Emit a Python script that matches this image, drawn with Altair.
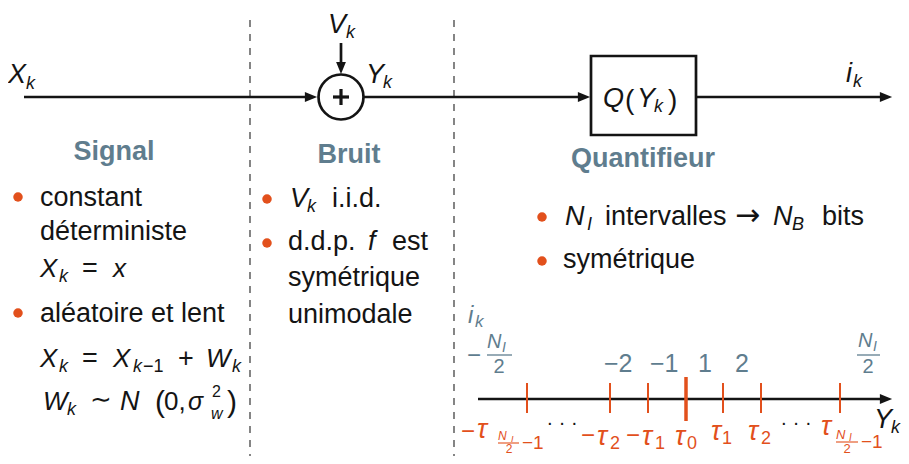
import altair as alt
import pandas as pd

FONT = "Liberation Sans"
ARROWFONT = "DejaVu Sans"
INK = "#141414"
SLATE = "#5f7d8e"
ORANGE = "#e2501c"

W, H = 893, 448
XS = alt.Scale(domain=[8, 8 + W], nice=False, zero=False)
YS = alt.Scale(domain=[8, 8 + H], nice=False, zero=False, reverse=True)

# ---------------- content ----------------
section_titles = ["Signal", "Bruit", "Quantifieur"]
signal_words = ["constant", "déterministe", "aléatoire et lent"]
bruit_words = ["i.i.d.", "d.d.p.", "est", "symétrique", "unimodale"]
quant_words = ["intervalles", "bits", "symétrique"]
index_labels = ["−2", "−1", "1", "2"]
threshold_subs = ["2", "1", "0", "1", "2"]
threshold_signs = ["−", "−", "", "", ""]
tick_pos = [527, 610, 648, 723, 761, 840]   # thresholds on the Y_k axis
center_tick = [686]

# ---------------- layout ----------------
texts = []


def T(s, x, y, size, color=INK, style="normal", weight="normal", align="left", font=FONT):
    texts.append(dict(t=s, x=x, y=y, s=size, c=color, st=style, w=weight, a=align, f=font))


# flow diagram symbols
T("X", 8, 83, 27, style="italic"); T("k", 26, 89, 18, style="italic")
T("V", 328, 33, 27, style="italic"); T("k", 346, 38, 18, style="italic")
T("Y", 366, 83, 27, style="italic"); T("k", 383, 88, 18, style="italic")
T("i", 846, 82, 27, style="italic"); T("k", 853, 87, 18, style="italic")
T("Q", 603, 107, 27, style="italic"); T("(", 625, 109, 28)
T("Y", 637, 107, 27, style="italic"); T("k", 654, 112, 18, style="italic")
T(")", 668, 109, 28)

# titles
for s, x, y in zip(section_titles, [114, 349, 643], [160, 163, 167]):
    T(s, x, y, 27, color=SLATE, weight="bold", align="center")

# Signal column
for s, y in zip(signal_words, [206, 240, 322]):
    T(s, 40, y, 27)
T("X", 40, 277, 26, style="italic"); T("k", 59, 282, 18, style="italic")
T("=", 82, 277, 27); T("x", 113, 277, 26, style="italic")
T("X", 40, 367, 26, style="italic"); T("k", 59, 372, 18, style="italic")
T("=", 82, 367, 27); T("X", 113, 367, 26, style="italic")
T("k", 133, 372, 18, style="italic"); T("−1", 143, 372, 18)
T("+", 178, 367, 27); T("W", 206, 367, 26, style="italic")
T("k", 232, 372, 18, style="italic")
T("W", 43, 410, 26, style="italic"); T("k", 67, 415, 18, style="italic")
T("∼", 90, 408, 26); T("N", 120, 410, 27, style="italic")
T("(", 155, 412, 30); T("0,", 164, 410, 26)
T("σ", 188, 410, 25, style="italic"); T("2", 212, 397, 16)
T("w", 211, 419, 16, style="italic"); T(")", 227, 412, 30)

# Bruit column
T("V", 290, 207, 27, style="italic"); T("k", 307, 212, 18, style="italic")
for s, x, y in zip(bruit_words, [332, 288, 392, 288, 288], [207, 250, 250, 286, 323]):
    T(s, x, y, 27)
T("f", 368, 250, 27, style="italic")

# Quantifieur column
T("N", 565, 225, 27, style="italic"); T("I", 587, 230, 18, style="italic")
T("N", 773, 225, 27, style="italic"); T("B", 792, 230, 18, style="italic")
for s, x, y in zip(quant_words, [605, 822, 563], [225, 225, 268]):
    T(s, x, y, 27)
T("→", 735, 225, 30, font=ARROWFONT)

# index labels above the axis
T("i", 468, 323, 24, color=SLATE, style="italic"); T("k", 475, 327, 17, color=SLATE, style="italic")
T("−", 467, 363, 24, color=SLATE)
T("N", 487, 348, 20, color=SLATE, style="italic"); T("I", 502, 352, 14, color=SLATE, style="italic")
T("2", 499, 373, 20, color=SLATE, align="center")
T("N", 858, 347, 20, color=SLATE, style="italic"); T("I", 873, 351, 14, color=SLATE, style="italic")
T("2", 868, 373, 20, color=SLATE, align="center")
for s, x in zip(index_labels, [604, 650, 698, 735]):
    T(s, x, 372, 25, color=SLATE)

# threshold labels below the axis
for sgn, sub, xm, xt, xs, yb in zip(threshold_signs, threshold_subs,
                                     [581, 626, 0, 0, 0],
                                     [597, 642, 675, 711, 748],
                                     [610, 655, 687, 722, 761],
                                     [445, 445, 445, 440, 440]):
    if sgn:
        T(sgn, xm, yb - 2, 24, color=ORANGE)
    T("τ", xt, yb, 27, color=ORANGE, style="italic")
    T(sub, xs, yb + 4, 18, color=ORANGE)
# -tau_{N_I/2 - 1}
T("−", 461, 439, 24, color=ORANGE); T("τ", 477, 438, 27, color=ORANGE, style="italic")
T("N", 498, 440, 12, color=ORANGE, style="italic"); T("I", 511, 442, 9, color=ORANGE, style="italic")
T("2", 509, 453, 12, color=ORANGE, align="center"); T("−1", 522, 449, 19, color=ORANGE)
# tau_{N_I/2 - 1}
T("τ", 821, 435, 27, color=ORANGE, style="italic")
T("N", 836, 439, 13, color=ORANGE, style="italic"); T("I", 849, 441, 10, color=ORANGE, style="italic")
T("2", 847, 453, 13, color=ORANGE, align="center"); T("−1", 861, 448, 19, color=ORANGE)
# dots and axis name
T("· · ·", 562, 429, 20, align="center"); T("· · ·", 796, 429, 20, align="center")
T("Y", 874, 428, 27, style="italic"); T("k", 891, 433, 18, style="italic")

tdf = pd.DataFrame(texts)

# ---------------- line work ----------------
solid = pd.DataFrame(dict(
    x=[24, 363, 696, 341, 478],
    x2=[312, 585, 887, 341, 886],
    y=[97, 97, 97, 43, 399],
    y2=[97, 97, 97, 66, 399],
))
plus = pd.DataFrame(dict(x=[333, 341], x2=[349, 341], y=[97, 89], y2=[97, 105]))
dashed = pd.DataFrame(dict(x=[250, 454], x2=[250, 454], y=[20, 20], y2=[462, 462]))
ticks = pd.DataFrame(dict(x=tick_pos, x2=tick_pos, y=[383] * 6, y2=[413] * 6))
ticks0 = pd.DataFrame(dict(x=center_tick, x2=center_tick, y=[377], y2=[421]))
bars_slate = pd.DataFrame(dict(x=[487, 857], x2=[512, 880], y=[355, 355], y2=[355, 355]))
bars_orange = pd.DataFrame(dict(x=[498, 836], x2=[519, 858], y=[443, 442], y2=[443, 442]))
box = pd.DataFrame(dict(x=[591], x2=[696], y=[56], y2=[135]))
adder = pd.DataFrame(dict(x=[341], y=[97]))
heads = pd.DataFrame(dict(x=[311, 584, 886, 341, 886], y=[97, 97, 97, 68, 399],
                          ang=[0, 0, 0, 90, 0]))
bullets = pd.DataFrame(dict(x=[18, 18, 267, 267, 542, 542],
                            y=[197, 313, 199, 243, 217, 261]))


def enc(extra=None):
    e = dict(x=alt.X("x:Q", scale=XS, axis=None), y=alt.Y("y:Q", scale=YS, axis=None))
    if extra:
        e.update(extra)
    return e


def rules(df, color, width, dash=None):
    kw = dict(color=color, strokeWidth=width)
    if dash:
        kw["strokeDash"] = dash
    return alt.Chart(df).mark_rule(**kw).encode(**enc(dict(x2="x2:Q", y2="y2:Q")))


layers = [
    rules(dashed, "#222222", 1.1, [7, 7]),
    rules(solid, INK, 2.7),
    rules(ticks, ORANGE, 2),
    rules(ticks0, ORANGE, 3.5),
    rules(bars_slate, SLATE, 1.3),
    rules(bars_orange, ORANGE, 1.1),
    alt.Chart(box).mark_rect(fill="white", stroke=INK, strokeWidth=2.7)
    .encode(**enc(dict(x2="x2:Q", y2="y2:Q"))),
    alt.Chart(adder).mark_point(shape="circle", size=2025, filled=True, fill="white",
                                stroke=INK, strokeWidth=2.7, opacity=1).encode(**enc()),
    rules(plus, INK, 3.2),
    alt.Chart(heads).mark_point(shape="M-1,-0.8L1,0L-1,0.8Z", size=150, filled=True,
                                color=INK, opacity=1)
    .encode(**enc(dict(angle=alt.Angle("ang:Q", scale=None)))),
    alt.Chart(bullets).mark_point(shape="circle", size=90, filled=True,
                                  color=ORANGE, opacity=1).encode(**enc()),
]

for (f, st, w, a), g in tdf.groupby(["f", "st", "w", "a"]):
    layers.append(
        alt.Chart(g).mark_text(font=f, fontStyle=st, fontWeight=w, align=a,
                               baseline="alphabetic")
        .encode(**enc(dict(text="t:N",
                           size=alt.Size("s:Q", scale=None),
                           color=alt.Color("c:N", scale=None))))
    )

chart = alt.layer(*layers).properties(
    width=W, height=H, padding=0,
    autosize=alt.AutoSizeParams(type="none"),
).configure_view(stroke=None)

chart.save("out.html", embed_options={"renderer": "svg", "actions": False})
